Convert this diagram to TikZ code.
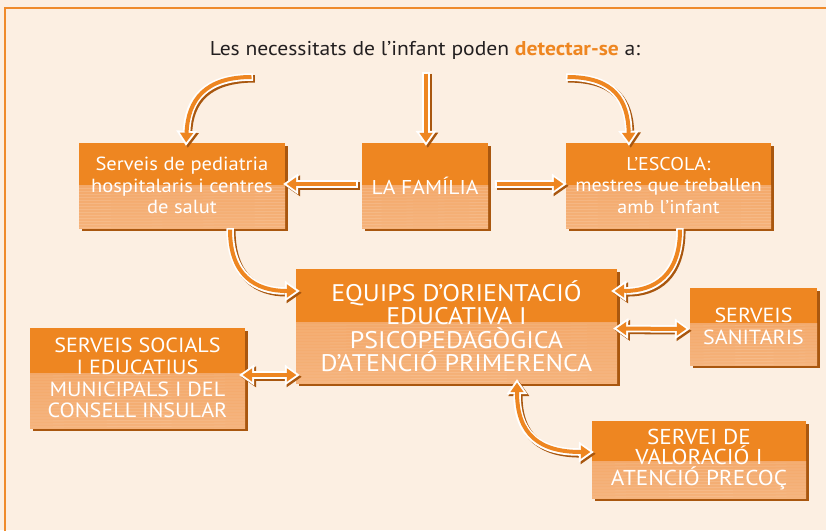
\documentclass[tikz,border=0pt]{standalone}
\usepackage{fontspec}
\setmainfont[FakeStretch=1.08]{PT Sans}
\usetikzlibrary{arrows.meta,shadows}
\definecolor{bg}{HTML}{FCEFE2}
\definecolor{darkor}{HTML}{EE8621}
\definecolor{lightor}{HTML}{F2A05C}
\definecolor{lightor2}{HTML}{F5B27A}
\definecolor{shbrown}{HTML}{A9570F}
\definecolor{frameor}{HTML}{EF8B2C}
\definecolor{titletext}{HTML}{231F20}
\tikzset{
  obox/.style={general shadow={fill=shbrown, shadow xshift=3pt, shadow yshift=-3pt},
    fill=darkor, draw=none, inner sep=0pt, align=center, text=white,
    path picture={
      \shade[top color=lightor, bottom color=lightor2] ([yshift=#1]path picture bounding box.west) rectangle (path picture bounding box.south east);
      \foreach \k in {3,6,...,66}{\draw[white, opacity=0.13, line width=0.8pt] ([yshift=#1-\k pt]path picture bounding box.west) -- ([yshift=#1-\k pt+1pt]path picture bounding box.east);}
    }},
  obox/.default=0pt,
  arrsh/.style={draw=shbrown, line width=7.5pt, >={Triangle[length=15pt,width=21pt,line width=0pt]}, transform canvas={shift={(1.8pt,-1.8pt)}}},
  arrwh/.style={draw=white, line width=7.5pt, >={Triangle[length=15pt,width=21pt,line width=0pt]}},
  arrcore/.style={draw=darkor, line width=4pt, >={Triangle[length=9.5pt,width=13.5pt,line width=0pt]}, shorten >=3.5pt, shorten <=1.5pt},
}
\newcommand\fatarrow[3][]{\draw[arrsh,#2] #3; \draw[arrwh,#2] #3; \draw[arrcore,#2,#1] #3;}
\begin{document}
\begin{tikzpicture}[x=1pt,y=-1pt]
\useasboundingbox (0,0) rectangle (826,530);
\fill[bg] (0,0) rectangle (826,530);
\draw[frameor, line width=2pt] (5,531) -- (5,8) -- (827,8);

\node[font=\fontsize{20}{22}\selectfont, text=titletext] (title) at (425,50)
  {Les necessitats de l’infant poden \textcolor{darkor}{\textbf{detectar-se}} a:};

\node[obox, minimum width=206pt, minimum height=85pt, font=\fontsize{19}{21.5}\selectfont] (b1) at (182,185.5)
  {Serveis de pediatria\\hospitalaris i centres\\de salut};
\node[obox, minimum width=126pt, minimum height=85pt, font=\fontsize{20}{22}\selectfont] (b2) at (425,185.5)
  {LA FAMÍLIA};
\node[obox, minimum width=205pt, minimum height=85pt, font=\fontsize{18.5}{21.5}\selectfont] (b3) at (668.5,185.5)
  {L’ESCOLA:\\mestres que treballen\\amb l’infant};
\node[obox=4pt, minimum width=321pt, minimum height=114pt, font=\fontsize{24}{23.5}\selectfont] (b4) at (456.5,326)
  {EQUIPS D’ORIENTACIÓ\\EDUCATIVA I\\PSICOPEDAGÒGICA\\D’ATENCIÓ PRIMERENCA};
\node[obox=5pt, minimum width=215pt, minimum height=100pt, font=\fontsize{20.5}{21.7}\selectfont] (b5) at (137.5,378)
  {SERVEIS SOCIALS\\I EDUCATIUS\\MUNICIPALS I DEL\\CONSELL INSULAR};
\node[obox=3.5pt, minimum width=127pt, minimum height=77pt, font=\fontsize{20.4}{22}\selectfont] (b6) at (753.5,326.5)
  {SERVEIS\\SANITARIS};
\node[obox=-1.5pt, minimum width=214pt, minimum height=77pt, font=\fontsize{21.5}{20.8}\selectfont] (b7) at (699,459.5)
  {SERVEI DE\\VALORACIÓ I\\ATENCIÓ PRECOÇ};

\coordinate (s1) at (253,77);
\coordinate (s2) at (426,72);
\coordinate (s3) at (566,77);

\fatarrow{->}{(s1) .. controls (205,77) and (188,100) .. ([xshift=4pt,yshift=-3pt]b1.north)}
\fatarrow{->}{(s2) -- ([xshift=1pt,yshift=-3pt]b2.north)}
\fatarrow{->}{(s3) .. controls (614,77) and (628,100) .. ([xshift=-39.5pt,yshift=-3pt]b3.north)}
\fatarrow{->}{([xshift=-4pt,yshift=1.5pt]b2.west) -- ([xshift=-2pt,yshift=1.5pt]b1.east)}
\fatarrow{->}{([xshift=7pt,yshift=1.5pt]b2.east) -- ([xshift=1pt,yshift=1.5pt]b3.west)}
\fatarrow{->}{([xshift=48pt]b1.south) .. controls (230,275) and (255,291) .. ([xshift=4pt,yshift=35pt]b4.west)}
\fatarrow{->}{([xshift=11.5pt]b3.south) .. controls (680,275) and (655,291) .. ([xshift=-6pt,yshift=35pt]b4.east)}
\fatarrow[shorten <=3.5pt]{<->}{([xshift=-6pt,yshift=3pt]b5.east) -- ([xshift=4pt,yshift=-49pt]b4.west)}
\fatarrow[shorten <=3.5pt]{<->}{([xshift=-4pt,yshift=-2.5pt]b4.east) -- ([yshift=-2.5pt]b6.west)}
\fatarrow[shorten <=3.5pt]{<->}{([xshift=60.5pt,yshift=4pt]b4.south) .. controls (517,435) and (540,452) .. ([xshift=2pt,yshift=7.5pt]b7.west)}
\end{tikzpicture}
\end{document}
